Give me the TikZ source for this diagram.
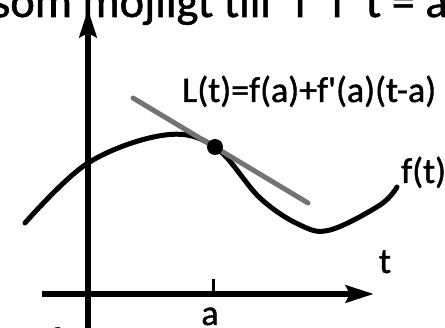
\documentclass[tikz,border=0pt]{standalone}
\usepackage{fontspec}
\setmainfont{Carlito}
\newfontfamily\heavyfont{Carlito}[FakeBold=1.2]
\usetikzlibrary{arrows.meta}
\tikzset{
  every node/.style={font=\heavyfont\fontsize{36}{40}\selectfont, inner sep=0pt},
  AX/.style={line width=6pt, -{Stealth[length=28pt, width=17pt, inset=4pt]}},
  CRV/.style={line width=5pt, line cap=round},
  TAN/.style={line width=5pt, black!55, line cap=round},
}

\begin{document}
\begin{tikzpicture}[x=1pt, y=1pt, yscale=-1]

\clip (0,0) rectangle (445,328);
\useasboundingbox (0,0) rectangle (445,328);

%% axes
\coordinate (O) at (88,294);
\coordinate (Ybot) at (88,340);
\coordinate (Ytop) at (88,9);
\coordinate (Xl) at (42,294);
\coordinate (Xr) at (374,294);
\draw[AX] (Ybot) -- (Ytop);
\draw[AX] (Xl) -- (Xr);

%% tick at a
\coordinate (A) at (213,294);
\coordinate (Atop) at (213,279);
\draw[line width=3pt] (A) -- (Atop);

%% the function
\draw[CRV] plot[smooth, tension=0.6] coordinates
  {(25,223) (88,163) (165,135) (215,147) (260,198) (300,225) (330,230) (380,205) (397,187)};

%% tangent line and point
\coordinate (T1) at (133,98);
\coordinate (T2) at (308,203);
\draw[TAN] (T1) -- (T2);
\node[circle, fill=black, minimum size=16pt] (P) at (215,147) {};

%% labels
\node[anchor=base west] (Lt) at (182,102) {L(t)=f(a)+f\textquotesingle(a)(t-a)};
\node[anchor=base west] (ft) at (401,183) {f(t)};
\node[anchor=base] (tlab) at (385,273) {t};
\node[anchor=base] (alab) at (210,325) {a};

%% cut text
\node[anchor=base east, font=\heavyfont\fontsize{46.5}{50}\selectfont] (top) at (448,17)
  {som möjligt till\hspace{0.5em}f\hspace{0.5em}i\hspace{0.5em}t = a};
\node[anchor=base west] (bot) at (49,352) {f runt t = a};

\end{tikzpicture}
\end{document}
